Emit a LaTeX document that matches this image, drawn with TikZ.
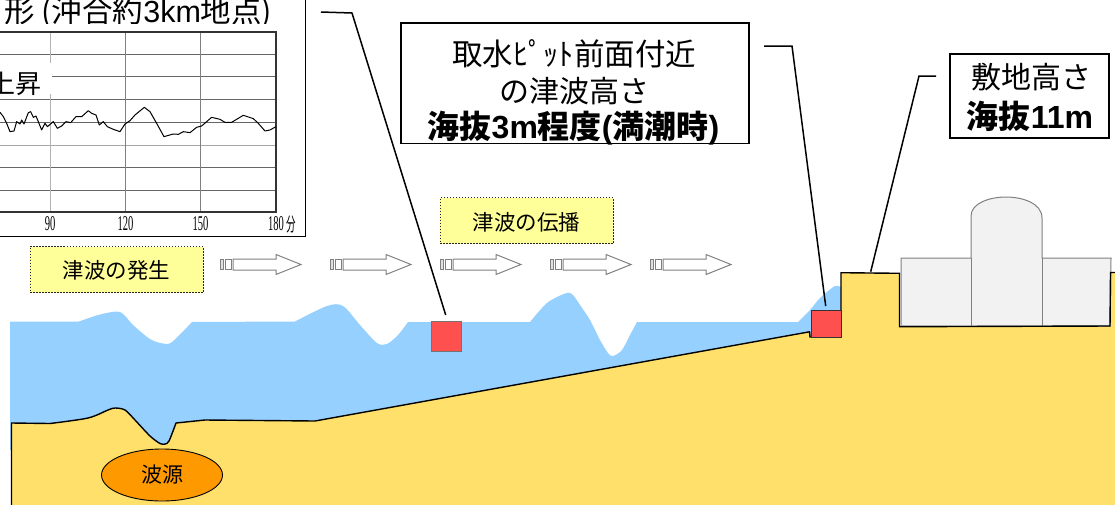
\documentclass[tikz,border=0pt]{standalone}
\usepackage{fontspec}
\usetikzlibrary{shapes.geometric}
\newfontfamily\jp{Noto Sans CJK JP}
\newfontfamily\lat{Liberation Sans}
\newfontfamily\narrowlat[FakeStretch=0.5]{Liberation Serif}
\newfontfamily\narrowjp[FakeStretch=0.5]{Noto Sans CJK JP}
\definecolor{seablue}{HTML}{96D0FF}
\definecolor{landyel}{HTML}{FFE06A}
\definecolor{notey}{HTML}{FFFF99}
\definecolor{redsq}{HTML}{FF5050}
\definecolor{bldg}{HTML}{F2F2F2}
\definecolor{srcorange}{HTML}{FF9900}
\tikzset{
  x=1pt,y=-1pt,
  labelbox/.style={draw=black,line width=1.5pt,fill=white,minimum width=#1,inner sep=0pt,align=center},
  notebox/.style={draw=black!85,dash pattern=on 1.5pt off 1.5pt,line width=1pt,fill=notey,minimum width=173pt,minimum height=46pt,inner sep=0pt},
  notetext/.style={inner sep=0pt,font=\jp\fontsize{21.5}{24}\selectfont},
  leader/.style={draw=black,line width=1.5pt},
  gridh/.style={draw=black!60,line width=.9pt},
  gridv/.style={draw=black!50,line width=.8pt},
  ticklab/.style={inner sep=0pt,font=\narrowlat\fontsize{21}{21}\selectfont},
  redbox/.style={draw=black!55,line width=1pt,fill=redsq,minimum width=30pt,minimum height=30pt,inner sep=0pt},
  flowline/.style={draw=black!50,line width=1pt,fill=white},
  flowarrow/.pic={
    \path[flowline,fill=black!12] (0,-5) rectangle (3.5,5);
    \path[flowline] (5,-5) rectangle (11,5);
    \path[flowline] (13,-5.5) -- (56,-5.5) -- (56,-10) -- (81,0) -- (56,10) -- (56,5.5) -- (13,5.5) -- cycle;
  }
}
\begin{document}
\begin{tikzpicture}
\useasboundingbox (0,0) rectangle (1115,504);
\clip (0,0) rectangle (1115,504);
% water
\fill[seablue] (10,321.5) -- (79,321.5)
  -- plot[smooth,tension=.5] coordinates {(79,321.5)(100,314.5)(120,312)(133,325)(150,339)(163,343.5)(172,342)(192,322)}
  -- (295,321.5)
  -- plot[smooth,tension=.5] coordinates {(295,321.5)(327,306)(343,306)(360,325)(377,343)(387,344)(398,335)(408,322)}
  -- (530,322)
  -- plot[smooth,tension=.5] coordinates {(530,322)(547,303)(565,293.5)(572,294)(580,305)(590,320)(600,340)(608,353)(613,356)(622,350)(630,335)(637,322)}
  -- (798,322)
  -- plot[smooth,tension=.5] coordinates {(798,322)(810,310)(820,298)(835,286)(842,288)}
  -- (842,340) -- (315,450) -- (10,450) -- cycle;
% land
\fill[landyel] (11.5,423) -- (50,423.5)
  -- plot[smooth,tension=.5] coordinates {(50,423.5)(88,418)(108,410)(115,408)(125,410)(135,420)(150,436)(160,443.5)(165,444)(169,441)(176,423)}
  -- (205,420) -- (315,421) -- (810,331.7) -- (810,337) -- (841,337) -- (841,272.7) -- (899.5,273.3) -- (899.5,326.7) -- (1110,326) -- (1110.5,272.5) -- (1115,272.5) -- (1115,505) -- (11.5,505) -- cycle;
% building
\path[draw=black!50,line width=1pt,fill=bldg] (901,326) -- (901,258) -- (971,258) -- (971,216) .. controls (971,203) and (990,197) .. (1006,197) .. controls (1022,197) and (1042,203) .. (1042,218) -- (1042,258) -- (1111,258) -- (1110,326) -- cycle;
\draw[black!50,line width=1pt] (971,258) -- (971,326) (1042,258) -- (1042,326);
% land outline
\draw[black,line width=1.4pt,line join=round] (11.5,505) -- (11.5,423) -- (50,423.5)
  -- plot[smooth,tension=.5] coordinates {(50,423.5)(88,418)(108,410)(115,408)(125,410)(135,420)(150,436)(160,443.5)(165,444)(169,441)(176,423)}
  -- (205,420) -- (315,421) -- (810,331.7);
\draw[black,line width=1.4pt] (809.5,331.7) -- (810,337) -- (841,337) -- (841,272.7) -- (899.5,273.3) -- (899.5,326.7) -- (1110,326) -- (1110.5,272.5) -- (1115,272.5);
% source
\node[ellipse,draw=black,line width=.9pt,fill=srcorange,minimum width=121pt,minimum height=52pt,inner sep=0pt,font=\jp\fontsize{21}{24}\selectfont] (src) at (162,475) {波源};
% red squares
\node[redbox] (pitA) at (446,336) {};
\node[redbox,draw=black!80,minimum height=27pt] (pitB) at (826,323.5) {};
% flow arrows
\foreach \ax in {220,330,440,550,650} \pic at (\ax,264.5) {flowarrow};
% notes
\node[notebox] (noteA) at (116.5,269.5) {};
\node[notetext] (noteAt) at (116.5,270.5) {津波の発生};
\node[notebox] (noteB) at (526.5,220.5) {};
\node[notetext] (noteBt) at (526.5,222) {津波の伝播};
% waveform panel
\draw[black,line width=1.5pt,fill=white] (-5,-5) rectangle (305.5,236.5);
\node[inner sep=0pt,anchor=base east,font=\jp\fontsize{30.5}{32}\selectfont] (title) at (272.5,22) {形 (沖合約{\lat 3km}地点)};
\fill[white] (0,23.5) rectangle (304,31);
\foreach \gy in {54,76,99,122,167,190} \draw[gridh] (0,\gy) -- (276,\gy);
\draw[gridh,black!35] (0,145) -- (276,145);
\draw[gridv,black!30] (50,32) -- (50,212);
\draw[gridv] (125.7,32) -- (125.7,212);
\draw[gridv] (200.7,32) -- (200.7,212);
\draw[black!80,line width=1.1pt] (0,212) -- (276,212) -- (276,32) -- (0,32);
\fill[white] (0,63) rectangle (52,94);
\node[inner sep=0pt,anchor=east,font=\jp\fontsize{26}{26}\selectfont] (rise) at (42,84) {上昇};
\begin{scope}[x=.3333pt,y=-.3333pt]
\draw[black,line width=1pt,line join=round] plot coordinates {(0,337)(10,350)(20,370)(30,395)(42,393)(50,365)(60,372)(65,360)(72,372)(85,338)(92,335)(100,352)(108,348)(125,390)(135,370)(142,380)(160,365)(172,385)(185,378)(198,365)(212,368)(228,350)(245,350)(265,332)(275,340)(288,345)(298,375)(310,365)(322,380)(340,388)(360,395)(375,372)(390,362)(405,345)(433,322)(450,335)(470,370)(492,410)(520,402)(535,403)(550,395)(570,398)(590,382)(605,378)(635,352)(660,358)(675,367)(695,367)(730,346)(760,356)(775,370)(795,393)(810,390)(828,380)};
\end{scope}
\node[ticklab] (t90) at (50,223.5) {90};
\node[ticklab] (t120) at (125.5,223.5) {120};
\node[ticklab] (t150) at (200.5,223.5) {150};
\node[ticklab] (t180) at (276,223.5) {180};
\node[inner sep=0pt,font=\narrowjp\fontsize{19}{19}\selectfont] (tmin) at (291.5,224) {分};
% label boxes
\node[labelbox=348pt,minimum height=120.5pt] (boxPit) at (575,83) {};
\node[inner sep=0pt,font=\jp\fontsize{30.5}{32}\selectfont] (pitL1) at (574,54) {取水ﾋﾟｯﾄ前面付近};
\node[inner sep=0pt,font=\jp\fontsize{30}{32}\selectfont] (pitL2) at (574,91) {の津波高さ};
\node[inner sep=0pt,font=\jp\bfseries\fontsize{32}{32}\selectfont] (pitL3) at (573.5,128.5) {海抜{\lat\bfseries 3m}程度{\lat\bfseries (}満潮時{\lat\bfseries )}};
\node[labelbox=159pt,minimum height=84pt] (boxSite) at (1029.5,96) {};
\node[inner sep=0pt,font=\jp\fontsize{30}{32}\selectfont] (siteL1) at (1031,77) {敷地高さ};
\node[inner sep=0pt,font=\jp\bfseries\fontsize{32}{32}\selectfont] (siteL2) at (1030,116) {海抜{\lat\bfseries 11m}};
% leaders
\coordinate (a0) at (321,12); \coordinate (a1) at (352,13); \coordinate (a2) at (445.7,315);
\coordinate (b0) at (764,46); \coordinate (b1) at (792,46); \coordinate (b2) at (825.7,306);
\coordinate (c0) at (936,76); \coordinate (c1) at (919,76); \coordinate (c2) at (870.7,271.7);
\draw[leader] (a0) -- (a1) -- (a2);
\draw[leader] (b0) -- (b1) -- (b2);
\draw[leader] (c0) -- (c1) -- (c2);
\end{tikzpicture}
\end{document}
